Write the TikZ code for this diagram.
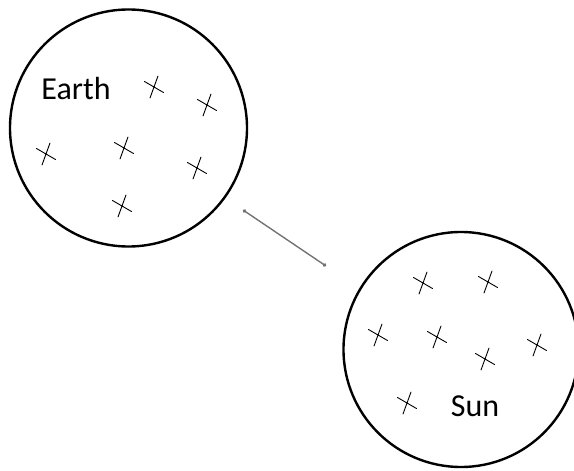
\documentclass[tikz,border=0pt]{standalone}
\usepackage{fontspec}
\setmainfont{Carlito}
\usetikzlibrary{arrows.meta}

\tikzset{
  body/.style={draw,circle,line width=2.4pt,inner sep=0pt},
  charge/.style={line width=0.9pt,line cap=round},
  link/.style={draw=black!55,line width=1.4pt,{Circle[length=3.5pt]}-{Circle[length=3.5pt]}},
  tag/.style={anchor=base,font=\fontsize{32}{38}\selectfont}
}

\begin{document}
\begin{tikzpicture}[x=1pt,y=-1pt]
        \useasboundingbox (0,0) rectangle (574,471);
        \clip (0,0) rectangle (574,471);

        \node[body,minimum size=237pt] (earth) at (128.5,128) {};
        \node[body,minimum size=235pt] (sun) at (461,349.5) {};

        \node[tag] (earthtag) at (76,99) {Earth};
        \node[tag] (suntag) at (475,416.5) {Sun};

        % charges in the earth
        \foreach \cx/\cy in {154/87,207/105,46/154,124/148,197/168,122/206}
            \draw[charge] (\cx,\cy) ++(-9.5,-5.5) -- ++(19,11)
                          (\cx,\cy) ++(4,-11) -- ++(-8,22);

        % charges in the sun
        \foreach \cx/\cy in {423/283,488/282,378/335,437/337,485/359,537/345,407/403}
            \draw[charge] (\cx,\cy) ++(-9.5,-5.5) -- ++(19,11)
                          (\cx,\cy) ++(4,-11) -- ++(-8,22);

        \coordinate (near) at (243,210);
        \coordinate (far) at (326,266);
        \draw[link] (near) -- (far);
    \end{tikzpicture}
\end{document}
